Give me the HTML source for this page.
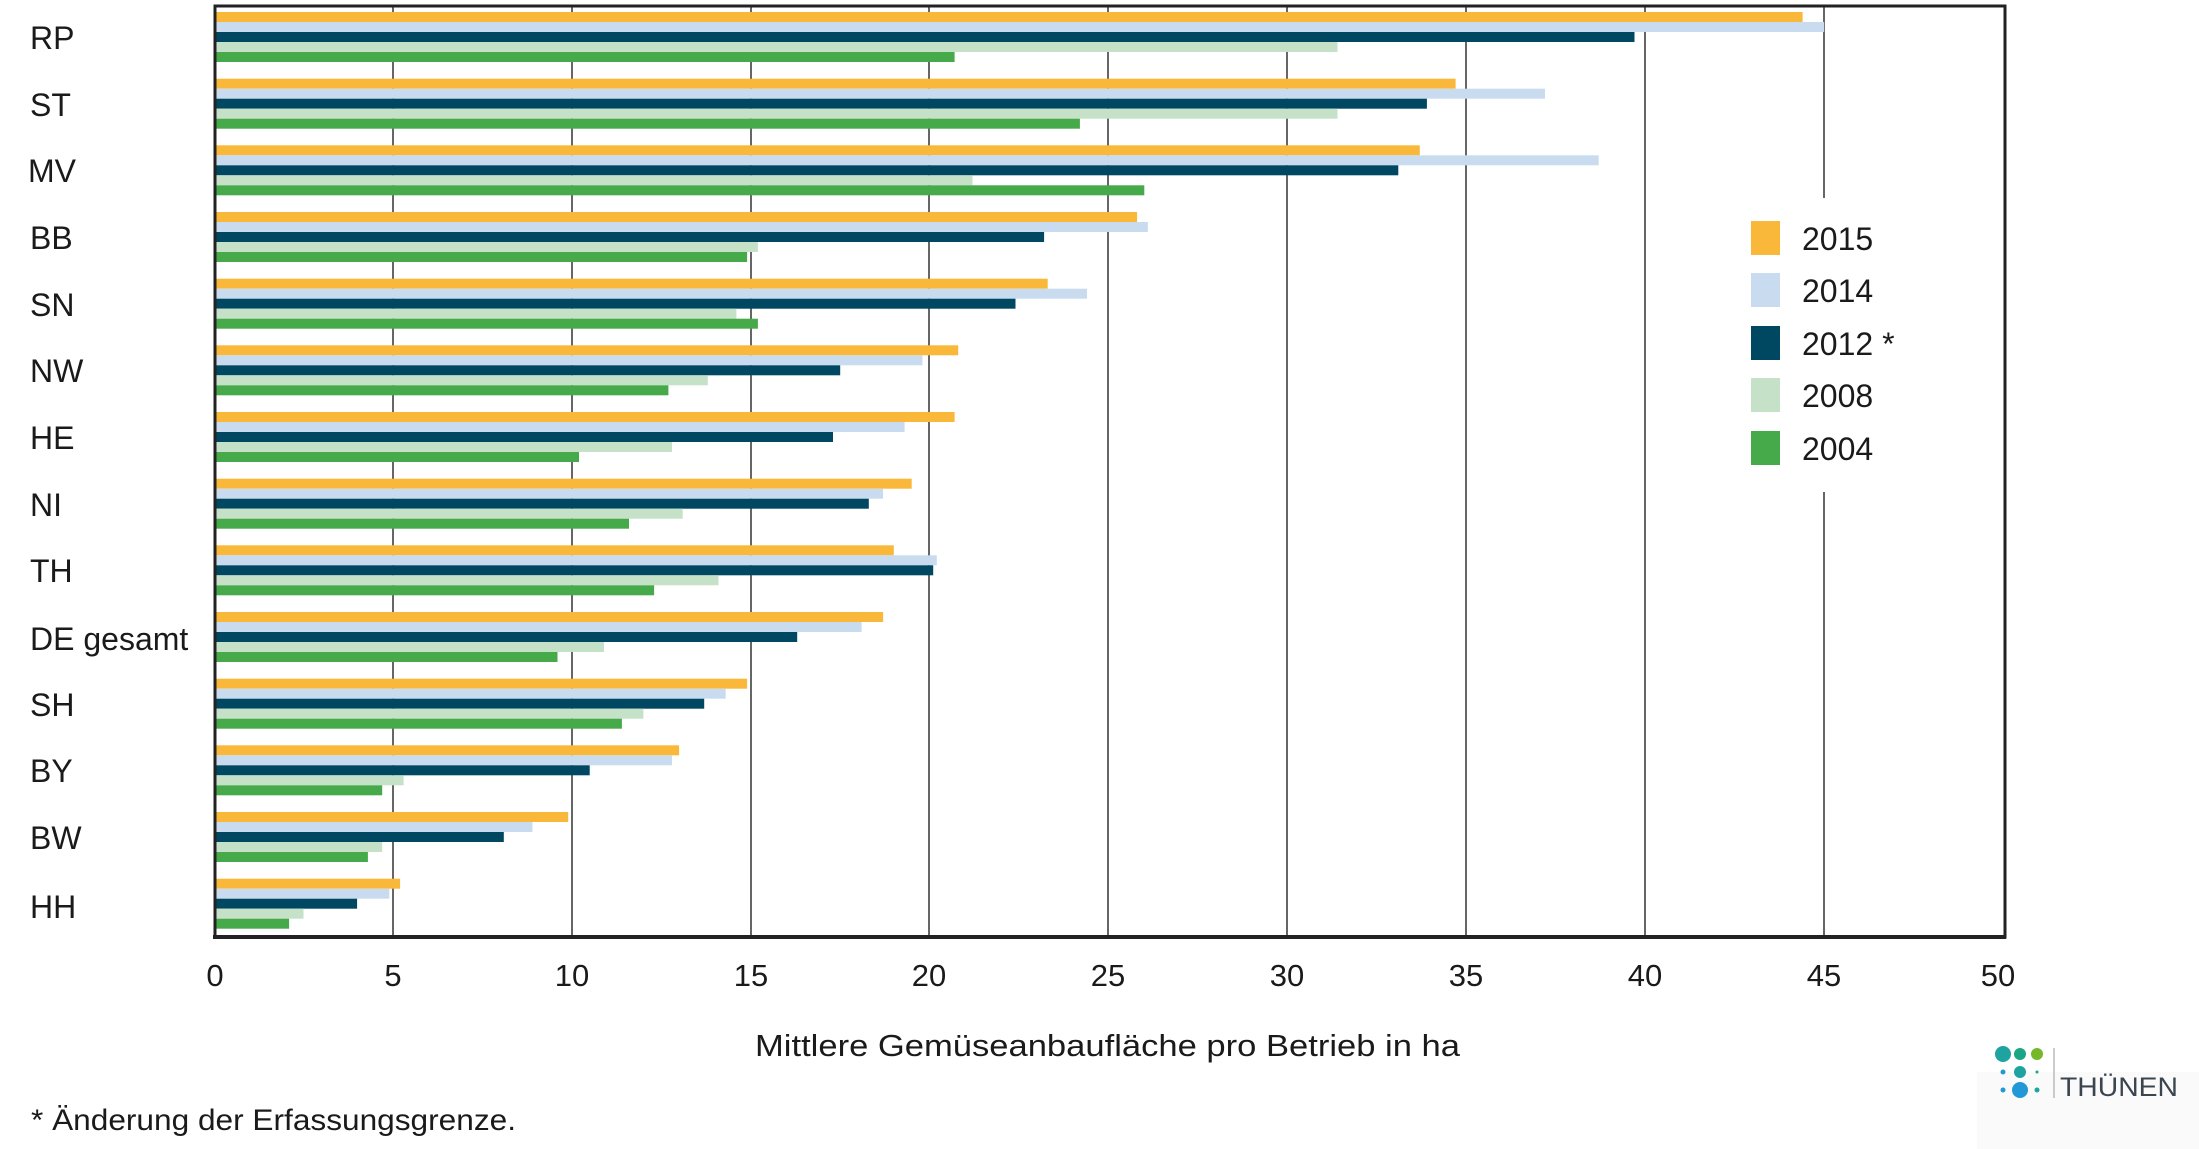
<!DOCTYPE html>
<html><head><meta charset="utf-8"><style>html,body{margin:0;padding:0;background:#fff}svg{display:block}.a{fill:#F9B83A}.b{fill:#C9DCEF}.c{fill:#004761}.d{fill:#C5E2C8}.e{fill:#46AA4A}</style></head>
<body>
<svg xmlns="http://www.w3.org/2000/svg" width="2199" height="1149" viewBox="0 0 2199 1149" font-family="'Liberation Sans', sans-serif" fill="#1a1a1a">
<rect width="2199" height="1149" fill="#fff"/>
<g stroke="#333" stroke-width="1.5">
<line x1="393" y1="6" x2="393" y2="937"/><line x1="572" y1="6" x2="572" y2="937"/><line x1="751" y1="6" x2="751" y2="937"/><line x1="929" y1="6" x2="929" y2="937"/><line x1="1108" y1="6" x2="1108" y2="937"/><line x1="1287" y1="6" x2="1287" y2="937"/><line x1="1466" y1="6" x2="1466" y2="937"/><line x1="1645" y1="6" x2="1645" y2="937"/><line x1="1824" y1="6" x2="1824" y2="937"/>
</g>
<rect x="1735" y="198" width="265" height="294" fill="#fff"/>
<g transform="translate(214,12)"><rect class="a" y="0" width="1588.6" height="10"/><rect class="b" y="10" width="1610.1" height="10"/><rect class="c" y="20" width="1420.5" height="10"/><rect class="d" y="30" width="1123.5" height="10"/><rect class="e" y="40" width="740.6" height="10"/></g>
<g transform="translate(214,78.7)"><rect class="a" y="0" width="1241.6" height="10"/><rect class="b" y="10" width="1331" height="10"/><rect class="c" y="20" width="1212.9" height="10"/><rect class="d" y="30" width="1123.5" height="10"/><rect class="e" y="40" width="865.9" height="10"/></g>
<g transform="translate(214,145.3)"><rect class="a" y="0" width="1205.8" height="10"/><rect class="b" y="10" width="1384.7" height="10"/><rect class="c" y="20" width="1184.3" height="10"/><rect class="d" y="30" width="758.5" height="10"/><rect class="e" y="40" width="930.3" height="10"/></g>
<g transform="translate(214,212)"><rect class="a" y="0" width="923.1" height="10"/><rect class="b" y="10" width="933.9" height="10"/><rect class="c" y="20" width="830.1" height="10"/><rect class="d" y="30" width="543.9" height="10"/><rect class="e" y="40" width="533.1" height="10"/></g>
<g transform="translate(214,278.7)"><rect class="a" y="0" width="833.7" height="10"/><rect class="b" y="10" width="873" height="10"/><rect class="c" y="20" width="801.5" height="10"/><rect class="d" y="30" width="522.4" height="10"/><rect class="e" y="40" width="543.9" height="10"/></g>
<g transform="translate(214,345.3)"><rect class="a" y="0" width="744.2" height="10"/><rect class="b" y="10" width="708.4" height="10"/><rect class="c" y="20" width="626.2" height="10"/><rect class="d" y="30" width="493.8" height="10"/><rect class="e" y="40" width="454.4" height="10"/></g>
<g transform="translate(214,412)"><rect class="a" y="0" width="740.6" height="10"/><rect class="b" y="10" width="690.6" height="10"/><rect class="c" y="20" width="619" height="10"/><rect class="d" y="30" width="458" height="10"/><rect class="e" y="40" width="365" height="10"/></g>
<g transform="translate(214,478.7)"><rect class="a" y="0" width="697.7" height="10"/><rect class="b" y="10" width="669.1" height="10"/><rect class="c" y="20" width="654.8" height="10"/><rect class="d" y="30" width="468.7" height="10"/><rect class="e" y="40" width="415" height="10"/></g>
<g transform="translate(214,545.3)"><rect class="a" y="0" width="679.8" height="10"/><rect class="b" y="10" width="722.8" height="10"/><rect class="c" y="20" width="719.2" height="10"/><rect class="d" y="30" width="504.5" height="10"/><rect class="e" y="40" width="440.1" height="10"/></g>
<g transform="translate(214,612)"><rect class="a" y="0" width="669.1" height="10"/><rect class="b" y="10" width="647.6" height="10"/><rect class="c" y="20" width="583.2" height="10"/><rect class="d" y="30" width="390" height="10"/><rect class="e" y="40" width="343.5" height="10"/></g>
<g transform="translate(214,678.7)"><rect class="a" y="0" width="533.1" height="10"/><rect class="b" y="10" width="511.7" height="10"/><rect class="c" y="20" width="490.2" height="10"/><rect class="d" y="30" width="429.4" height="10"/><rect class="e" y="40" width="407.9" height="10"/></g>
<g transform="translate(214,745.3)"><rect class="a" y="0" width="465.1" height="10"/><rect class="b" y="10" width="458" height="10"/><rect class="c" y="20" width="375.7" height="10"/><rect class="d" y="30" width="189.6" height="10"/><rect class="e" y="40" width="168.2" height="10"/></g>
<g transform="translate(214,812)"><rect class="a" y="0" width="354.2" height="10"/><rect class="b" y="10" width="318.4" height="10"/><rect class="c" y="20" width="289.8" height="10"/><rect class="d" y="30" width="168.2" height="10"/><rect class="e" y="40" width="153.9" height="10"/></g>
<g transform="translate(214,878.7)"><rect class="a" y="0" width="186.1" height="10"/><rect class="b" y="10" width="175.3" height="10"/><rect class="c" y="20" width="143.1" height="10"/><rect class="d" y="30" width="89.5" height="10"/><rect class="e" y="40" width="75.1" height="10"/></g>
<rect x="215" y="6" width="1790" height="931" fill="none" stroke="#222" stroke-width="3"/>
<line x1="213" y1="937" x2="2006" y2="937" stroke="#222" stroke-width="4"/>
<g font-size="32">
<text x="30" y="49">RP</text><text x="30" y="116">ST</text><text x="28" y="182">MV</text><text x="30" y="249">BB</text><text x="30" y="316">SN</text><text x="30" y="382">NW</text><text x="30" y="449">HE</text><text x="30" y="516">NI</text><text x="30" y="582">TH</text><text x="30" y="650">DE gesamt</text><text x="30" y="716">SH</text><text x="30" y="782">BY</text><text x="30" y="849">BW</text><text x="30" y="918">HH</text>
</g>
<g font-size="31" text-anchor="middle">
<text x="215" y="986">0</text><text x="393" y="986">5</text><text x="572" y="986">10</text><text x="751" y="986">15</text><text x="929" y="986">20</text><text x="1108" y="986">25</text><text x="1287" y="986">30</text><text x="1466" y="986">35</text><text x="1645" y="986">40</text><text x="1824" y="986">45</text><text x="1998" y="986">50</text>
</g>
<text x="755" y="1056" font-size="31" textLength="705" lengthAdjust="spacingAndGlyphs">Mittlere Gemüseanbaufläche pro Betrieb in ha</text>
<text x="31" y="1130" font-size="30" textLength="485" lengthAdjust="spacingAndGlyphs">* Änderung der Erfassungsgrenze.</text>
<g>
<rect x="1751" y="221" width="29" height="34" fill="#F9B83A"/><rect x="1751" y="273" width="29" height="34" fill="#C9DCEF"/><rect x="1751" y="326" width="29" height="34" fill="#004761"/><rect x="1751" y="378" width="29" height="34" fill="#C5E2C8"/><rect x="1751" y="431" width="29" height="34" fill="#46AA4A"/>
<g font-size="32"><text x="1802" y="250">2015</text><text x="1802" y="302">2014</text><text x="1802" y="355">2012 *</text><text x="1802" y="407">2008</text><text x="1802" y="460">2004</text></g>
</g>
<g>
<rect x="1977" y="1072" width="222" height="77" fill="#fafafa"/>
<circle cx="2003" cy="1054" r="8" fill="#1fa3a0"/><circle cx="2020" cy="1054" r="6" fill="#1aa683"/><circle cx="2037" cy="1054" r="6" fill="#76b82a"/>
<circle cx="2003" cy="1072" r="2.5" fill="#2299d6"/><circle cx="2020" cy="1072" r="6" fill="#1fa3a0"/><circle cx="2037" cy="1072" r="1.5" fill="#1aa683"/>
<circle cx="2003" cy="1090" r="2.5" fill="#2299d6"/><circle cx="2020" cy="1090" r="8" fill="#2299d6"/><circle cx="2037" cy="1090" r="2.5" fill="#1fa3a0"/>
<line x1="2054" y1="1048" x2="2054" y2="1098" stroke="#999" stroke-width="1"/>
<text x="2060" y="1096" font-size="27" fill="#3a4550" textLength="118" lengthAdjust="spacingAndGlyphs">THÜNEN</text>
</g>
</svg>
</body></html>
